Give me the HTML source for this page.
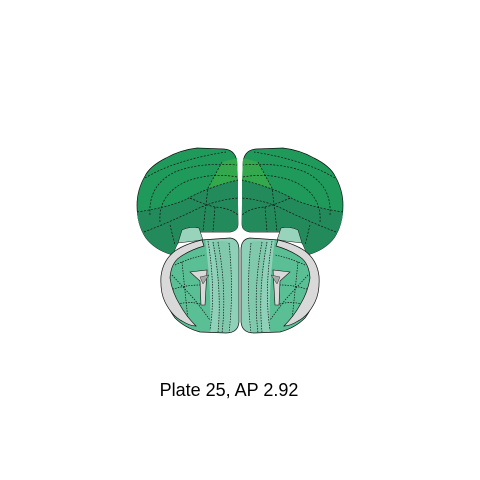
<!DOCTYPE html>
<html><head><meta charset="utf-8"><style>
html,body{margin:0;padding:0;background:#fff;width:480px;height:480px;overflow:hidden}
svg{display:block}
</style></head><body>
<svg width="480" height="480" viewBox="0 0 480 480">
<defs>
<clipPath id="lowclip"><path d="M201,240 L230,238 Q239,239 239,250 L239,322 Q238,333 226,333 L200,332 Q185,328 175,318 Q163,302 162,280 Q165,258 180,248 Z"/></clipPath>
<g id="half">
  <path d="M237,165 Q237,150 224,149 L197,148 Q180,150 166,158 Q150,166 145,176 Q137,190 137,205 Q137,225 146,238 Q155,250 173,255 Q176,245 181,238 L197,232 L230,232 Q238,231 238,224 Z" fill="#1f9a5b" stroke="#111" stroke-width="0.7"/>
  <path d="M137,212 Q165,208 185,200 Q205,188 238,180 L238,224 Q238,231 230,232 L197,232 L181,238 Q176,245 173,255 Q155,250 146,238 Q138,226 137,212 Z" fill="#238a5c"/>
  <path d="M222,162 L237,158 L238,180 L208,188 Z" fill="#34a84c"/>
  <g fill="none" stroke="#111" stroke-width="0.7" stroke-dasharray="2,1.5">
    <path d="M145,178 Q175,160 226,152"/>
    <path d="M150,215 Q148,185 175,172 Q200,162 237,165"/>
    <path d="M160,222 Q158,195 185,182 Q210,172 237,177"/>
    <path d="M137,212 Q165,208 185,200 Q205,188 238,180"/>
    <path d="M144,232 Q170,222 195,210 Q215,200 238,198"/>
    <path d="M222,162 L208,188 L205,212 L203,232"/>
    <path d="M190,198 Q205,205 215,207 Q230,208 238,215"/>
    <path d="M170,225 L175,245"/>
    <path d="M215,207 L213,232"/>
  </g>
  <path d="M182,230 Q190,226 199,228 L203,240 L178,243 Z" fill="#98d3bb" stroke="#111" stroke-width="0.5"/>
  <g clip-path="url(#lowclip)">
    <rect x="150" y="230" width="95" height="110" fill="#5bbf95"/>
    <path d="M205,238 L245,236 L245,340 L210,340 Q212,290 205,238 Z" fill="#8fd0b8"/>
    <path d="M212,242 Q222,240 230,242 Q233,290 228,334 L218,334 Q222,290 212,242 Z" fill="#80c9ad"/>
  </g>
  <path d="M201,240 L230,238 Q239,239 239,250 L239,322 Q238,333 226,333 L200,332 Q185,328 175,318 Q163,302 162,280 Q165,258 180,248 Z" fill="none" stroke="#111" stroke-width="0.7"/>
  <g fill="none" stroke="#111" stroke-width="0.7" stroke-dasharray="1.5,1.2">
    <path d="M208,241 Q216,290 210,330"/>
    <path d="M213,242 Q222,290 218,332"/>
    <path d="M218,242 Q227,290 222,333"/>
    <path d="M229,243 Q234,290 229,333"/>
    <path d="M175,265 Q190,258 205,255"/>
    <path d="M170,290 Q185,285 200,285"/>
    <path d="M175,305 Q190,300 203,305"/>
    <path d="M182,262 L188,320"/>
    <path d="M172,275 L195,300 L210,320"/>
  </g>
  <path d="M202,240 Q185,244 175,251 Q163,260 161,276 Q160,292 165,302 Q172,316 182,321 Q190,326 196,326 Q186,316 180,305 Q172,292 170,278 Q171,263 180,257 Q190,250 204,246 Z" fill="#d9d9d9" stroke="#111" stroke-width="0.7"/>
  <path d="M190,272 L207,270 L205,305 L201,305 L200,281 Z" fill="#d9d9d9" stroke="#111" stroke-width="0.6"/>
  <path d="M200,277 L209,275 L203,284 Z" fill="#a8a8a8" stroke="#111" stroke-width="0.4"/>
</g>
</defs>
<use href="#half"/>
<use href="#half" transform="translate(480,0) scale(-1,1)"/>
<text x="229" y="396" text-anchor="middle" font-family="Liberation Sans, sans-serif" font-size="18" fill="#000">Plate 25, AP 2.92</text>
</svg>
</body></html>
